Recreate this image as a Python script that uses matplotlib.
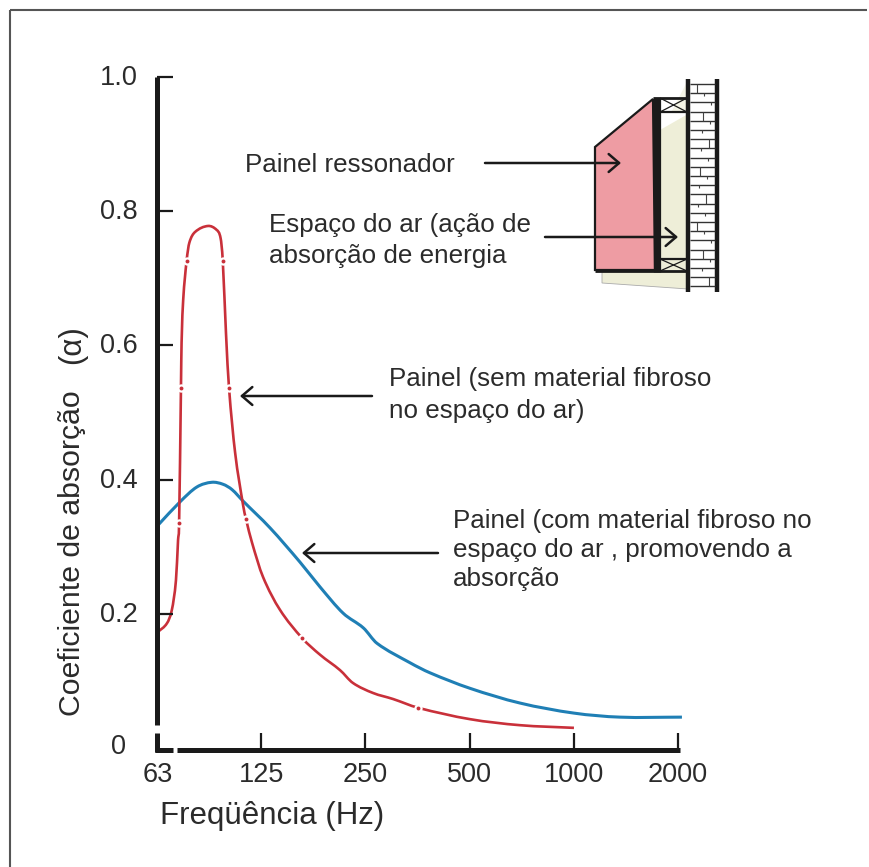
import numpy as np
import matplotlib.pyplot as plt
from matplotlib.patches import Polygon, Rectangle, PathPatch
from matplotlib.path import Path

plt.rcParams['font.family'] = ['Liberation Sans', 'DejaVu Sans']

W, H = 869, 867

# curves: frequency (Hz), absorption coefficient
red_freq = [62.9, 66.8, 69.0, 70.9, 71.9, 72.4, 73.3, 73.6, 74.4, 76.1, 77.5, 80.5, 87.8,
            93.0, 95.4, 96.8, 98.9, 100.9, 105.1, 110.8, 113.0, 117.6, 126.5, 141.6, 164,
            184.9, 211.2, 230, 263, 300.5, 354.8, 501, 699, 1001]
red_alpha = [.173, .186, .206, .250, .310, .335, .537, .604, .668, .726, .753, .769, .778,
             .772, .760, .726, .618, .537, .440, .362, .341, .306, .255, .206, .164,
             .139, .116, .097, .082, .073, .060, .043, .034, .030]
blue_freq = [62.9, 72.9, 81.5, 90, 97, 103, 110.8, 132.6, 161.8, 184.9, 215.5, 246.6, 270.1,
             336.5, 384.4, 501, 699, 1001, 1360, 2053]
blue_alpha = [.332, .367, .389, .396, .393, .385, .368, .328, .277, .240, .201, .179, .156,
              .127, .112, .089, .067, .052, .046, .046]
# small dots on the red line
dot_freq = [76.1, 96.8, 73.3, 100.9, 72.4, 113.0, 164, 354.8]
dot_alpha = [.726, .726, .537, .537, .335, .341, .164, .060]

x_ticks = [62.5, 125, 250, 500, 1000, 2000]
x_labels = ['63', '125', '250', '500', '1000', '2000']
y_ticks = [0.2, 0.4, 0.6, 0.8, 1.0]
y_labels = ['0.2', '0.4', '0.6', '0.8', '1.0']

RED = '#c9303a'
BLUE = '#1f7fb5'
INK = '#1a1a1a'
TXT = '#2b2b2b'


def smooth_path(freq, alpha):
    # bezier through the read points, control points worked out on log x
    x = np.log2(freq)
    y = np.array(alpha)
    verts = [(x[0], y[0])]
    codes = [Path.MOVETO]
    for i in range(len(x) - 1):
        a = max(i - 1, 0)
        b = min(i + 2, len(x) - 1)
        d = x[i + 1] - x[i]
        m0 = (y[i + 1] - y[a]) / (x[i + 1] - x[a])
        m1 = (y[b] - y[i]) / (x[b] - x[i])
        verts += [(x[i] + d / 3, y[i] + m0 * d / 3),
                  (x[i + 1] - d / 3, y[i + 1] - m1 * d / 3),
                  (x[i + 1], y[i + 1])]
        codes += [Path.CURVE4] * 3
    verts = np.array(verts)
    verts[:, 0] = 2 ** verts[:, 0]
    return Path(verts, codes)


fig = plt.figure(figsize=(W / 100, H / 100), dpi=100)

# chart axes, x0=157 y0=748 in image pixels
ax = fig.add_axes([157 / W, 1 - 748 / H, 526 / W, 671 / H])
ax.set_xscale('log', base=2)
ax.set_xlim(62.5, 62.5 * 2 ** (526 / 104.2))
ax.set_ylim(0, 1)
ax.patch.set_alpha(0)
for s in ax.spines.values():
    s.set_visible(False)
ax.minorticks_off()
ax.set_xticks([])
ax.set_yticks([])

ax.add_patch(PathPatch(smooth_path(blue_freq, blue_alpha), fill=False, ec=BLUE, lw=2.2, zorder=2))
ax.add_patch(PathPatch(smooth_path(red_freq, red_alpha), fill=False, ec=RED, lw=1.9, zorder=2.5))
ax.plot(dot_freq, dot_alpha, 'o', color='white', ms=6, mew=0, zorder=3)
ax.plot(dot_freq, dot_alpha, 'o', color=RED, ms=2.8, mew=0, zorder=4)

# everything else is placed in image pixels
ov = fig.add_axes([0, 0, 1, 1])
ov.set_xlim(0, W)
ov.set_ylim(H, 0)
ov.axis('off')
ov.patch.set_alpha(0)


def line(xs, ys, lw=1.5, c=INK, z=5):
    ov.plot(xs, ys, color=c, lw=lw, solid_capstyle='butt', solid_joinstyle='miter', zorder=z)


def arrow(x0, x1, y):
    ov.annotate('', xy=(x1, y), xytext=(x0, y), zorder=8,
                arrowprops=dict(arrowstyle='->,head_width=0.43,head_length=0.5', color=INK,
                                lw=1.8, shrinkA=0, shrinkB=0, mutation_scale=15))


# outer frame
line([10, 10], [H, 10], lw=1.5, c='#555555')
line([10, H], [10, 10], lw=1.5, c='#555555')

# axes lines with the break near the origin
line([157, 157], [77, 725], lw=3.6)
line([157, 157], [733, 752], lw=3.6)
line([155, 173], [750, 750], lw=3.6)
line([177, 680], [750, 750], lw=3.6)
for v in y_ticks:
    py = 748 - v * 671
    line([157, 173], [py, py], lw=1.6)
for k in range(1, 6):
    px = 157 + k * 104.2
    px = min(px, 678)
    line([px, px], [733, 750], lw=1.6)

for v, lab in zip(y_ticks, y_labels):
    ov.text(138, 748 - v * 671 + 1, lab, ha='right', va='center', fontsize=19.5, color=TXT)
ov.text(118, 747, '0', ha='center', va='center', fontsize=19.5, color=TXT)
for f, lab in zip(x_ticks, x_labels):
    px = 157 + np.log2(f / 62.5) * 104.2
    if f == 62.5:
        px = 158
    ov.text(px, 775, lab, ha='center', va='center', fontsize=19.5, color=TXT)
ov.text(272, 816, 'Freqüência (Hz)', ha='center', va='center', fontsize=22.5, color=TXT)
ov.text(72, 716, 'Coeficiente de absorção', ha='center', va='bottom',
        rotation=90, fontsize=21.8, color=TXT)
ov.text(72, 345, '(α)', ha='center', va='center', rotation=90, fontsize=22.5, color=TXT)

# annotations
FS = 18.7
ov.text(245, 165, 'Painel ressonador', va='center', fontsize=FS, color=TXT)
ov.text(269, 225, 'Espaço do ar (ação de', va='center', fontsize=FS, color=TXT)
ov.text(269, 256, 'absorção de energia', va='center', fontsize=FS, color=TXT)
ov.text(389, 379, 'Painel (sem material fibroso', va='center', fontsize=FS, color=TXT)
ov.text(389, 411, 'no espaço do ar)', va='center', fontsize=FS, color=TXT)
ov.text(453, 521, 'Painel (com material fibroso no', va='center', fontsize=FS, color=TXT)
ov.text(453, 550, 'espaço do ar , promovendo a', va='center', fontsize=FS, color=TXT)
ov.text(453, 579, 'absorção', va='center', fontsize=FS, color=TXT)

arrow(485, 621, 163)
arrow(545, 678, 237)
arrow(372, 240, 396)
arrow(438, 302, 553)

# wall section drawing
ov.add_patch(Polygon([[602, 271], [602, 283], [688, 289], [688, 271]], fc='#eeeed8', ec='#aaaaaa', lw=0.6, zorder=1))
ov.add_patch(Polygon([[662, 130], [688, 80], [688, 112], [662, 112]], fc='#f4f4e6', ec='none', zorder=1))
ov.add_patch(Rectangle((660, 111), 28, 19, fc='white', ec='none', zorder=1.5))
ov.add_patch(Polygon([[660, 130], [688, 114], [688, 270], [660, 270]], fc='#eeeed8', ec='none', zorder=1.6))
ov.add_patch(Polygon([[595, 147], [653, 99], [655, 270], [595, 270]], fc='#ee9ca3', ec=INK, lw=1.6, zorder=2))
line([656.5, 656.5], [98, 272], lw=5.2)
line([653, 688], [98, 98], lw=2)
line([595, 688], [271, 271], lw=2)
for y0, y1 in [(98, 112), (259, 271)]:
    line([660, 687], [y1 if y0 == 98 else y0] * 2, lw=1.6)
    line([660, 687], [y0, y1], lw=0.9)
    line([660, 687], [y1, y0], lw=0.9)
line([688, 688], [79, 292], lw=3.2)
line([717, 717], [79, 292], lw=3.2)
for y in np.arange(84, 292, 9.2):
    line([690, 715], [y, y], lw=1.0, c='#333333')
for i, y in enumerate(np.arange(84, 284, 9.2)):
    px = 697 + (i * 7) % 15
    line([px, px], [y, y + 3 if i % 3 else y + 9.2], lw=0.8, c='#444444')

fig.savefig('out.png', dpi=100)
